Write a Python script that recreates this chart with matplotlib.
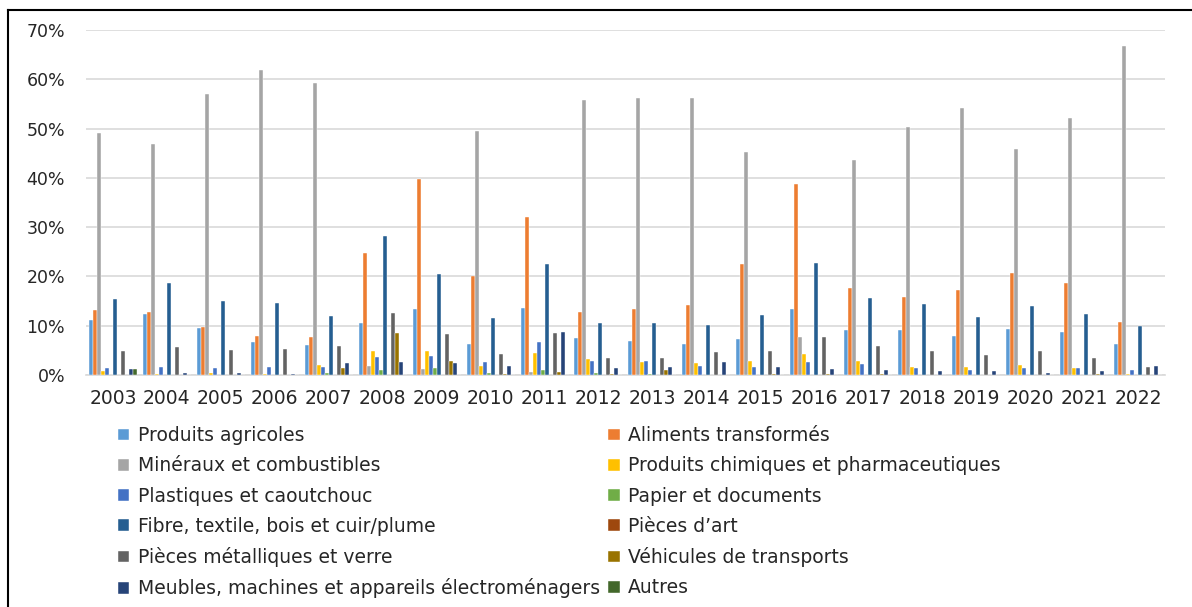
import numpy as np
import matplotlib
matplotlib.use("Agg")
import matplotlib.pyplot as plt
from matplotlib.lines import Line2D

years = [str(y) for y in range(2003, 2023)]

# shares in % per year
agricoles = [11.2, 12.3, 9.6, 6.7, 6.1, 10.5, 13.4, 6.2, 13.6, 7.6, 6.8, 6.2, 7.4, 13.4, 9.1, 9.1, 8.0, 9.4, 8.7, 6.2]
aliments = [13.2, 12.8, 9.7, 7.9, 7.7, 24.7, 39.8, 20.1, 32.0, 12.8, 13.4, 14.2, 22.5, 38.7, 17.6, 15.8, 17.2, 20.6, 18.6, 10.8]
mineraux = [49.2, 46.8, 57.0, 61.9, 59.2, 1.8, 1.3, 49.6, 0.6, 55.8, 56.1, 56.3, 45.3, 7.8, 43.7, 50.4, 54.1, 45.8, 52.1, 66.7]
chimiques = [0.8, 0.3, 0.4, 0.2, 2.0, 4.9, 4.9, 1.9, 4.4, 3.2, 2.6, 2.4, 2.8, 4.3, 2.9, 1.7, 1.7, 2.0, 1.5, 0.3]
plastiques = [1.5, 1.6, 1.5, 1.6, 1.6, 3.7, 3.9, 2.6, 6.7, 2.9, 2.8, 1.9, 1.7, 2.6, 2.2, 1.5, 1.1, 1.5, 1.5, 1.1]
papier = [0, 0, 0, 0, 0.4, 1.1, 1.5, 0.5, 1.1, 0.5, 0.3, 0, 0, 0, 0, 0, 0, 0, 0, 0]
fibre = [15.5, 18.6, 15.1, 14.6, 11.9, 28.3, 20.5, 11.6, 22.5, 10.6, 10.5, 10.1, 12.1, 22.7, 15.7, 14.4, 11.8, 14.1, 12.3, 9.9]
art = [0] * 20
metal = [4.9, 5.6, 5.1, 5.3, 5.8, 12.6, 8.3, 4.3, 8.5, 3.4, 3.4, 4.7, 4.9, 7.8, 5.9, 4.9, 4.0, 4.9, 3.4, 1.7]
vehicules = [0, 0, 0, 0, 1.4, 8.5, 2.8, 0.3, 0.6, 0.3, 1.0, 0, 0.3, 0.3, 0.3, 0, 0, 0, 0.3, 0]
meubles = [1.2, 0.4, 0.4, 0.2, 2.4, 2.6, 2.4, 1.9, 8.8, 1.5, 1.7, 2.6, 1.7, 1.3, 1.1, 0.8, 0.8, 0.5, 0.8, 1.9]
autres = [1.2] + [0] * 19

labels = [
    "Produits agricoles", "Aliments transformés",
    "Minéraux et combustibles", "Produits chimiques et pharmaceutiques",
    "Plastiques et caoutchouc", "Papier et documents",
    "Fibre, textile, bois et cuir/plume", "Pièces d’art",
    "Pièces métalliques et verre", "Véhicules de transports",
    "Meubles, machines et appareils électroménagers", "Autres",
]
series = [agricoles, aliments, mineraux, chimiques, plastiques, papier,
          fibre, art, metal, vehicules, meubles, autres]
colors = ["#5B9BD5", "#ED7D31", "#A5A5A5", "#FFC000", "#4472C4", "#70AD47",
          "#255E91", "#9E480E", "#636363", "#997300", "#264478", "#43682B"]

fig = plt.figure(figsize=(11.92, 6.07), dpi=100)
ax = fig.add_axes([0.0721, 0.3822, 0.9052, 0.5684])

x = np.arange(len(years))
n = len(series)
w = 0.89 / n
handles = []
for i, (vals, col) in enumerate(zip(series, colors)):
    b = ax.bar(x - 0.445 + w * (i + 0.5), vals, width=w, color=col,
               edgecolor="white", linewidth=0.3, zorder=3)
    handles.append(b)

ax.set_xlim(-0.5, len(years) - 0.5)
ax.set_ylim(0, 70)
ax.set_yticks(range(0, 71, 10))
ax.set_yticklabels([f"{v}%" for v in range(0, 71, 10)])
ax.set_xticks(x)
ax.set_xticklabels(years)
ax.tick_params(axis="both", length=0, labelcolor="#262626")
ax.tick_params(axis="x", pad=10, labelsize=13.5)
ax.tick_params(axis="y", pad=15, labelsize=12.5)
ax.grid(axis="y", color="#D9D9D9", linewidth=1.2, zorder=0)
for s in ["top", "right", "left"]:
    ax.spines[s].set_visible(False)
ax.spines["bottom"].set_color("#D9D9D9")
ax.spines["bottom"].set_linewidth(1.2)

# legend in row-major order, two columns
order = [0, 2, 4, 6, 8, 10, 1, 3, 5, 7, 9, 11]
fig.legend([handles[i] for i in order], [labels[i] for i in order],
           ncol=2, loc="upper left", bbox_to_anchor=(0.099, 0.298),
           frameon=False, fontsize=13.5, handlelength=0.6, handleheight=0.6,
           handletextpad=0.45, columnspacing=0.45, labelspacing=0.6,
           borderaxespad=0, borderpad=0, labelcolor="#262626")

# outer frame (left and top edges visible)
fig.add_artist(Line2D([8 / 1192, 8 / 1192], [0, 1 - 10 / 607],
                      transform=fig.transFigure, color="black", linewidth=1.5))
fig.add_artist(Line2D([8 / 1192, 1], [1 - 10 / 607, 1 - 10 / 607],
                      transform=fig.transFigure, color="black", linewidth=1.5))

fig.savefig("out.png", dpi=100)
